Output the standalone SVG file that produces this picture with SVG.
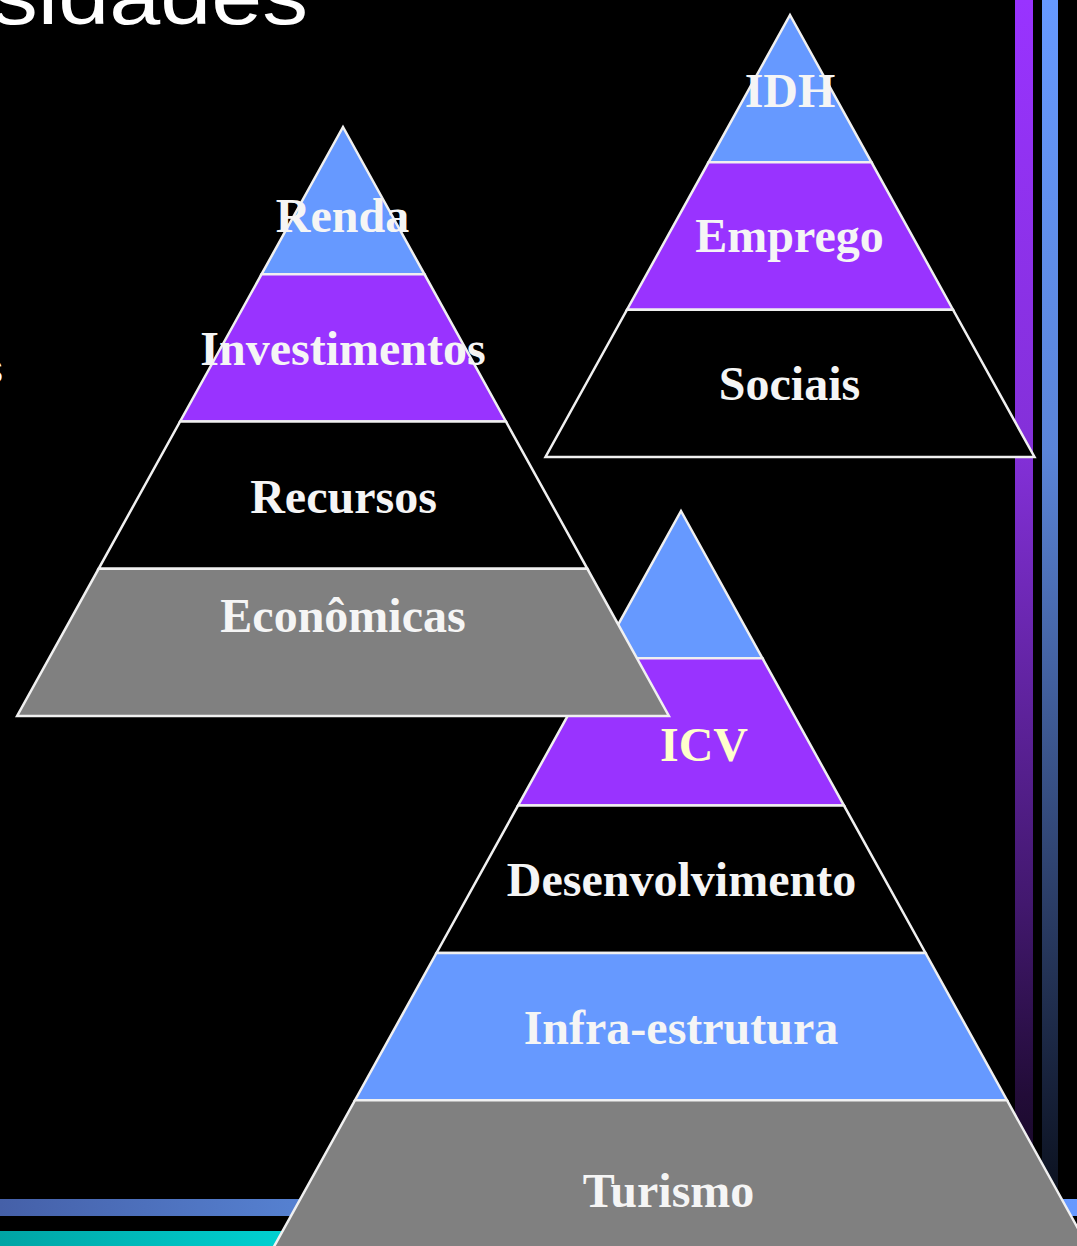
<svg xmlns="http://www.w3.org/2000/svg" width="1077" height="1246" viewBox="0 0 1077 1246">
  <defs>
    <linearGradient id="gPurple" gradientUnits="userSpaceOnUse" x1="0" y1="0" x2="0" y2="1190">
      <stop offset="0" stop-color="#9933ff"/>
      <stop offset="0.38" stop-color="#8330d8"/>
      <stop offset="0.76" stop-color="#42186e"/>
      <stop offset="0.92" stop-color="#220c38"/>
      <stop offset="1" stop-color="#150822"/>
    </linearGradient>
    <linearGradient id="gBlueV" gradientUnits="userSpaceOnUse" x1="0" y1="0" x2="0" y2="1190">
      <stop offset="0" stop-color="#6699ff"/>
      <stop offset="0.38" stop-color="#5a84d8"/>
      <stop offset="0.76" stop-color="#2b3d66"/>
      <stop offset="0.92" stop-color="#162038"/>
      <stop offset="1" stop-color="#0c1220"/>
    </linearGradient>
    <linearGradient id="gBlueH" gradientUnits="userSpaceOnUse" x1="0" y1="0" x2="1077" y2="0">
      <stop offset="0" stop-color="#4560a8"/>
      <stop offset="0.27" stop-color="#5580d0"/>
      <stop offset="1" stop-color="#6699ff"/>
    </linearGradient>
    <linearGradient id="gCyan" gradientUnits="userSpaceOnUse" x1="0" y1="0" x2="1077" y2="0">
      <stop offset="0" stop-color="#00a4a4"/>
      <stop offset="0.26" stop-color="#00d0d0"/>
      <stop offset="1" stop-color="#00ffff"/>
    </linearGradient>
  </defs>
  <style>
    .lay { stroke: #f0f0f0; stroke-width: 2.5; stroke-linejoin: miter; }
    .blue { fill: #6699ff; }
    .purple { fill: #9933ff; }
    .black { fill: #000000; }
    .gray { fill: #808080; }
    .lbl { font-family: "Liberation Serif", "Times New Roman", serif; font-weight: bold; font-size: 48px; fill: #f5f5f5; text-anchor: middle; }
    .icv { fill: #ffffcc; }
    .title { font-family: "Liberation Sans", Arial, sans-serif; fill: #ffffff; }
  </style>

  <rect x="0" y="0" width="1077" height="1246" fill="#000000"/>

  <g id="decor">
    <rect x="1015" y="0" width="18" height="1190" fill="url(#gPurple)"/>
    <rect x="1042" y="0" width="16" height="1190" fill="url(#gBlueV)"/>
    <rect x="0" y="1199" width="1077" height="17" fill="url(#gBlueH)"/>
    <rect x="0" y="1231" width="1077" height="15" fill="url(#gCyan)"/>
    <text class="title" x="-8" y="24" font-size="80" textLength="316" lengthAdjust="spacingAndGlyphs">sidades</text>
    <text class="title" x="-17" y="383" font-size="40">s</text>
  </g>

  <g id="pyramid-icv">
    <polygon class="lay blue" points="681,511 762.5,658.3 599.5,658.3"/>
    <polygon class="lay purple" points="599.5,658.3 762.5,658.3 844,805.6 518,805.6"/>
    <polygon class="lay black" points="518,805.6 844,805.6 925.5,952.9 436.5,952.9"/>
    <polygon class="lay blue" points="436.5,952.9 925.5,952.9 1007,1100.2 355,1100.2"/>
    <polygon class="lay gray" points="355,1100.2 1007,1100.2 1088.5,1247.5 273.5,1247.5"/>
    <text class="lbl icv" x="704" y="761">ICV</text>
    <text class="lbl" x="681.5" y="896">Desenvolvimento</text>
    <text class="lbl" x="681" y="1044">Infra-estrutura</text>
    <text class="lbl" x="668.5" y="1207">Turismo</text>
  </g>

  <g id="pyramid-renda">
    <polygon class="lay blue" points="343,127 424.5,274.3 261.5,274.3"/>
    <polygon class="lay purple" points="261.5,274.3 424.5,274.3 505.9,421.5 180.1,421.5"/>
    <polygon class="lay black" points="180.1,421.5 505.9,421.5 587.4,568.8 98.6,568.8"/>
    <polygon class="lay gray" points="98.6,568.8 587.4,568.8 668.9,716 17.1,716"/>
    <text class="lbl" x="342.5" y="232">Renda</text>
    <text class="lbl" x="343" y="365">Investimentos</text>
    <text class="lbl" x="343.5" y="513">Recursos</text>
    <text class="lbl" x="343" y="632">Econômicas</text>
  </g>

  <g id="pyramid-idh">
    <polygon class="lay blue" points="790,15 871.5,162.3 708.5,162.3"/>
    <polygon class="lay purple" points="708.5,162.3 871.5,162.3 953,309.7 627,309.7"/>
    <polygon class="lay black" points="627,309.7 953,309.7 1034.5,457 545.5,457"/>
    <text class="lbl" x="790" y="107">IDH</text>
    <text class="lbl" x="789.5" y="252">Emprego</text>
    <text class="lbl" x="789.5" y="400">Sociais</text>
  </g>

  <g id="connectors"></g>
</svg>
